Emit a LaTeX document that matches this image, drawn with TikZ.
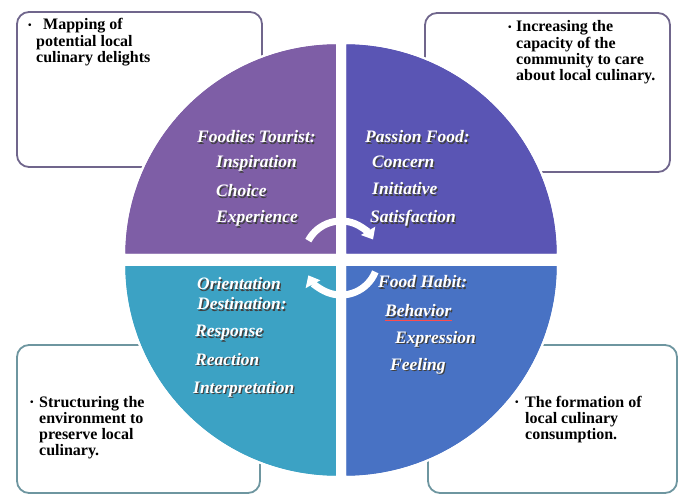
\documentclass[tikz,border=0pt]{standalone}
\usepackage{fontspec}
\setmainfont{Liberation Serif}
\usetikzlibrary{arrows.meta}
\definecolor{qpurple}{RGB}{126,94,166}
\definecolor{qviolet}{RGB}{90,85,180}
\definecolor{qteal}{RGB}{60,162,196}
\definecolor{qblue}{RGB}{72,114,196}
\definecolor{boxtop}{RGB}{112,102,140}
\definecolor{boxbot}{RGB}{110,150,160}
\newcommand{\shd}[1]{\rlap{\raisebox{-1.2pt}{\hspace{1.2pt}\textcolor{black!75}{#1}}}#1}
\tikzset{
  quad/.style={draw=white,line width=2pt},
  infobox/.style={fill=white,line width=1.8pt,rounded corners=12pt},
  boxtext/.style={anchor=base west,inner sep=0pt,align=left,
    font=\fontsize{16}{16.3}\selectfont\bfseries},
  dot/.style={anchor=base west,inner sep=0pt,font=\fontsize{10}{10}\selectfont\bfseries},
  qtext/.style={anchor=base west,inner sep=0pt,text=white,
    font=\fontsize{17.5}{18}\selectfont\bfseries\itshape},
  cyc/.style={draw=white,line width=7pt,-{Triangle[width=16pt,length=10pt]}}
}
\begin{document}
\begin{tikzpicture}[x=1pt,y=1pt]
\useasboundingbox (0,0) rectangle (679,498);
% boxes behind the circle
\draw[infobox,draw=boxtop] (17,331) rectangle (262,486);
\draw[infobox,draw=boxtop] (425,326) rectangle (670,485);
\draw[infobox,draw=boxbot] (17,5) rectangle (260,153);
\draw[infobox,draw=boxbot] (428,5) rectangle (677,153);
% four quarters
\fill[quad,fill=qpurple] (337,243) -- ++(-213,0) arc[start angle=180,end angle=90,x radius=213,y radius=212] -- cycle;
\fill[quad,fill=qviolet] (345,243) -- ++(0,212) arc[start angle=90,end angle=0,x radius=213,y radius=212] -- cycle;
\fill[quad,fill=qteal] (337,233) -- ++(0,-212) arc[start angle=270,end angle=180,x radius=213,y radius=212] -- cycle;
\fill[quad,fill=qblue] (345,233) -- ++(213,0) arc[start angle=0,end angle=-90,x radius=213,y radius=212] -- cycle;
\draw[quad] (337,243) -- ++(-213,0) arc[start angle=180,end angle=90,x radius=213,y radius=212] -- cycle;
\draw[quad] (345,243) -- ++(0,212) arc[start angle=90,end angle=0,x radius=213,y radius=212] -- cycle;
\draw[quad] (337,233) -- ++(0,-212) arc[start angle=270,end angle=180,x radius=213,y radius=212] -- cycle;
\draw[quad] (345,233) -- ++(213,0) arc[start angle=0,end angle=-90,x radius=213,y radius=212] -- cycle;
% box texts (anchored at the last line)
\node[dot] (b1) at (28,469.5) {\textbullet};
\node[boxtext] (t1) at (36,435.4) {\hspace{7pt}Mapping of\\potential local\\culinary delights};
\node[dot] (b2) at (508,467.5) {\textbullet};
\node[boxtext] (t2) at (516,417.1) {Increasing the\\capacity of the\\community to care\\about local culinary.};
\node[dot] (b3) at (30,92.5) {\textbullet};
\node[boxtext] (t3) at (39,42.1) {Structuring the\\environment to\\preserve local\\culinary.};
\node[dot] (b4) at (515,92.5) {\textbullet};
\node[boxtext] (t4) at (525,58.4) {The formation of\\local culinary\\consumption.};
% quarter texts
\node[qtext] (ft) at (197,355) {\shd{Foodies Tourist:}};
\node[qtext] (ft1) at (216,330) {\shd{Inspiration}};
\node[qtext] (ft2) at (216,301) {\shd{Choice}};
\node[qtext] (ft3) at (216,275) {\shd{Experience}};
\node[qtext] (pf) at (365,355) {\shd{Passion Food:}};
\node[qtext] (pf1) at (372,330) {\shd{Concern}};
\node[qtext] (pf2) at (372,303) {\shd{Initiative}};
\node[qtext] (pf3) at (370,275) {\shd{Satisfaction}};
\node[qtext] (od) at (197,208) {\shd{Orientation}};
\node[qtext] (od0) at (197,188) {\shd{Destination:}};
\node[qtext] (od1) at (195,161) {\shd{Response}};
\node[qtext] (od2) at (195,133) {\shd{Reaction}};
\node[qtext] (od3) at (193,105) {\shd{Interpretation}};
\node[qtext] (fh) at (378,210) {\shd{Food Habit:}};
\node[qtext] (fh1) at (385,181) {\shd{Behavior}};
\node[qtext] (fh2) at (395,155) {\shd{Expression}};
\node[qtext] (fh3) at (390,128) {\shd{Feeling}};
\draw[red!70,line width=0.8pt] ([yshift=-3pt]fh1.base west) -- ([yshift=-3pt]fh1.base east);
% cycle arrows
\coordinate (ctr) at (341,240);
\draw[cyc] ([shift={(152:37)}]ctr) arc[start angle=152,end angle=30,radius=37];
\draw[cyc] ([shift={(-22:37)}]ctr) arc[start angle=-22,end angle=-152,radius=37];
\end{tikzpicture}
\end{document}
